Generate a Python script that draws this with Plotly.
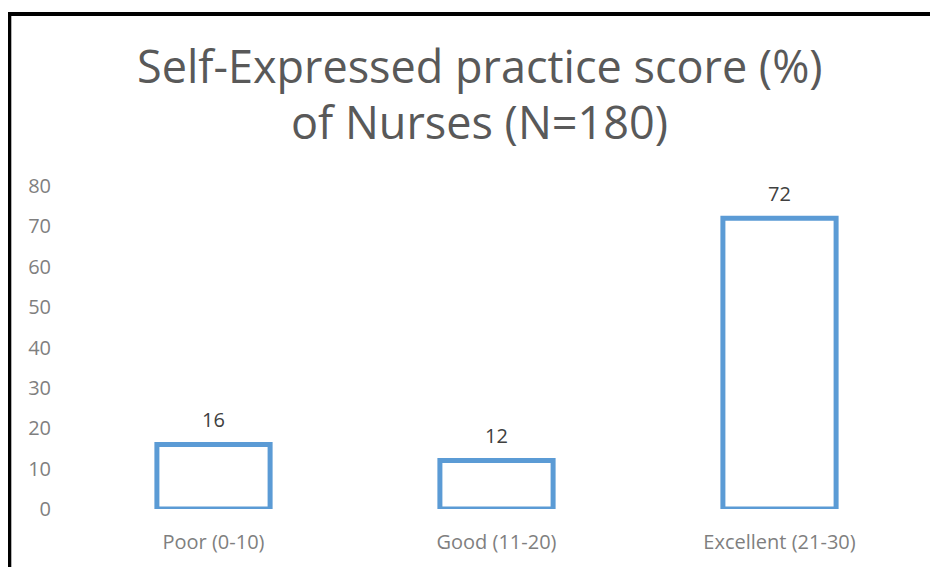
import plotly.graph_objects as go

categories = ["Poor (0-10)", "Good (11-20)", "Excellent (21-30)"]
values = [16, 12, 72]
y_ticks = [0, 10, 20, 30, 40, 50, 60, 70, 80]
title_lines = ["Self-Expressed practice score (%)", "of Nurses (N=180)"]

FONT = "Open Sans"
W, H = 930, 559
L, R, T, B = 64, 17, 178, 58
pw, ph = W - L - R, H - T - B


def px_x(p):
    return (p - L) / pw


def px_y(p):
    return (H - B - p) / ph


fig = go.Figure()
fig.add_trace(go.Bar(
    x=categories, y=values, width=0.4,
    marker=dict(color="white", line=dict(color="#5B9BD5", width=5)),
    hoverinfo="x+y",
))

for c, v in zip(categories, values):
    fig.add_annotation(x=c, y=v, text=str(v), showarrow=False, yanchor="middle",
                       yshift=25, font=dict(family=FONT, size=20, color="#404040"))

for line, ypx in zip(title_lines, [58, 114]):
    fig.add_annotation(xref="paper", yref="paper", x=px_x(471.5), y=px_y(ypx),
                       text=line, showarrow=False, xanchor="center", yanchor="middle",
                       font=dict(family=FONT, size=45, color="#595959"))

border = dict(color="black", width=4)
fig.add_shape(type="line", xref="paper", yref="paper",
              x0=px_x(-1), x1=px_x(960), y0=px_y(6), y1=px_y(6), line=border)
fig.add_shape(type="line", xref="paper", yref="paper",
              x0=px_x(1.3), x1=px_x(1.3), y0=px_y(4), y1=px_y(600), line=border)

fig.update_layout(
    width=W, height=H,
    margin=dict(l=L, r=R, t=T, b=B),
    paper_bgcolor="white", plot_bgcolor="white",
    showlegend=False,
    xaxis=dict(showline=False, showgrid=False, ticks="", ticklabelstandoff=19,
               tickfont=dict(family=FONT, size=20, color="#7F7F7F")),
    yaxis=dict(range=[0, 80], tickvals=y_ticks, showgrid=False, showline=False,
               zeroline=False, ticks="", ticklabelstandoff=20,
               tickfont=dict(family=FONT, size=20, color="#7F7F7F")),
)

fig.write_html("out.html")
